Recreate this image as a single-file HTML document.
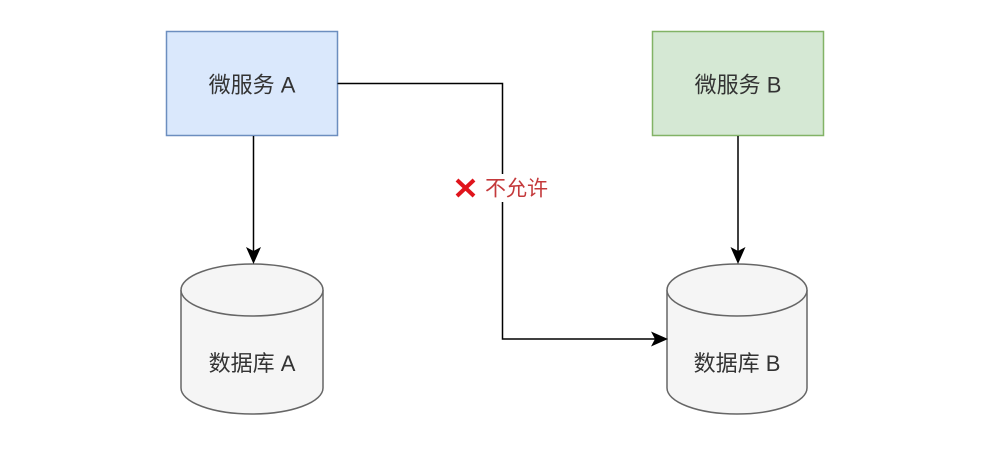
<!DOCTYPE html>
<html>
<head>
<meta charset="utf-8">
<style>
  html, body { margin:0; padding:0; background:#ffffff; }
  body { width:1000px; height:451px; overflow:hidden; }
  svg { display:block; }
  text { font-family: "Liberation Sans", "Noto Sans CJK SC", sans-serif; }
</style>
</head>
<body>
<svg width="1000" height="451" viewBox="0 0 1000 451" xmlns="http://www.w3.org/2000/svg">
  <rect x="0" y="0" width="1000" height="451" fill="#ffffff"/>

  <!-- Box A -->
  <rect x="166.5" y="31.5" width="171" height="104" fill="#dae8fc" stroke="#6c8ebf" stroke-width="1.5"/>
  <text x="252" y="92.5" font-size="22" fill="#333333" text-anchor="middle">微服务 A</text>

  <!-- Box B -->
  <rect x="652.5" y="31.5" width="171" height="104" fill="#d5e8d4" stroke="#82b366" stroke-width="1.5"/>
  <text x="738" y="92.5" font-size="22" fill="#333333" text-anchor="middle">微服务 B</text>

  <!-- Cylinder A -->
  <path d="M181,290 L181,388 A71,26 0 0 0 323,388 L323,290" fill="#f5f5f5" stroke="#666666" stroke-width="1.5"/>
  <ellipse cx="252" cy="290" rx="71" ry="26" fill="#f5f5f5" stroke="#666666" stroke-width="1.5"/>
  <text x="252" y="371" font-size="22" fill="#333333" text-anchor="middle">数据库 A</text>

  <!-- Cylinder B -->
  <path d="M667,290 L667,388 A70,26 0 0 0 807,388 L807,290" fill="#f5f5f5" stroke="#666666" stroke-width="1.5"/>
  <ellipse cx="737" cy="290" rx="70" ry="26" fill="#f5f5f5" stroke="#666666" stroke-width="1.5"/>
  <text x="737" y="371" font-size="22" fill="#333333" text-anchor="middle">数据库 B</text>

  <!-- Arrow A -> DB A -->
  <line x1="253.5" y1="136" x2="253.5" y2="252" stroke="#000" stroke-width="1.5"/>
  <path d="M253.5,264 L246,247 L253.5,251 L261,247 Z" fill="#000"/>

  <!-- Arrow B -> DB B -->
  <line x1="738" y1="136" x2="738" y2="252" stroke="#000" stroke-width="1.5"/>
  <path d="M738,264 L730.5,247 L738,251 L745.5,247 Z" fill="#000"/>

  <!-- Disallowed connector A -> DB B -->
  <polyline points="337.5,83.5 502.5,83.5 502.5,339 656,339" fill="none" stroke="#000" stroke-width="1.5"/>
  <path d="M668,339 L651,331.5 L655,339 L651,346.5 Z" fill="#000"/>

  <!-- Label background -->
  <rect x="452" y="174" width="104" height="28" fill="#ffffff"/>
  <!-- Red X -->
  <g stroke="#e0141c" stroke-width="4" stroke-linecap="butt">
    <line x1="457" y1="180" x2="474" y2="196"/>
    <line x1="474" y1="180" x2="457" y2="196"/>
  </g>
  <text x="485" y="195.5" font-size="21" fill="#c4393b">不允许</text>
</svg>
</body>
</html>
